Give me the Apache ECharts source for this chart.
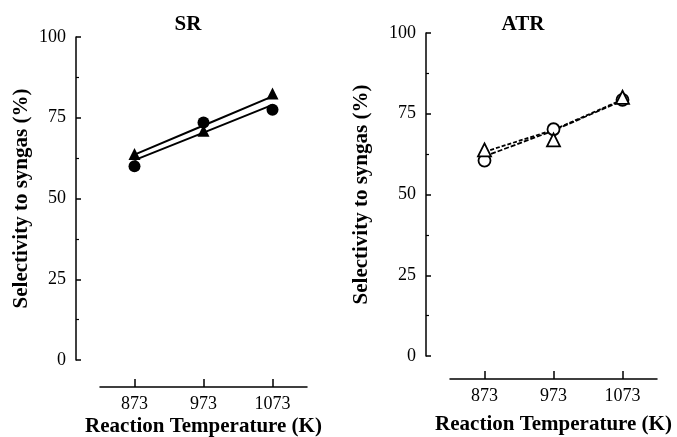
<!DOCTYPE html>
<html>
<head>
<meta charset="utf-8">
<script src="https://cdn.jsdelivr.net/npm/echarts@6/dist/echarts.min.js"></script>
<style>
html,body{margin:0;padding:0;background:#fff;}
#chart{width:677px;height:437px;}
</style>
</head>
<body>
<div id="chart"></div>
<script>
// ---- data ----
const categories = ['873', '973', '1073'];
const yTicks = [0, 25, 50, 75, 100];
const srCircle = [60, 73.5, 77.5];
const srTriangle = [63.8, 71, 82.5];
const srCircleFit = [61.9, 70.4, 79.0];
const srTriangleFit = [63.6, 72.6, 81.6];
const atrCircle = [60.5, 70.2, 79.3];
const atrTriangle = [63.8, 66.9, 80.1];
const atrLineA = [63.2, 70.0, 79.4];
const atrLineB = [61.8, 69.8, 79.1];
const panelTitles = ['SR', 'ATR'];
const xName = 'Reaction Temperature (K)';
const yName = 'Selectivity to syngas (%)';

const FONT = '"Liberation Serif", "Times New Roman", serif';
const chart = echarts.init(document.getElementById('chart'));

function xAxis(gridIndex, offset, nameGap) {
  return {
    type: 'category', gridIndex, data: categories, boundaryGap: true, offset,
    name: xName, nameLocation: 'middle', nameGap, nameMoveOverlap: false,
    nameTextStyle: { fontFamily: FONT, fontWeight: 'bold', fontSize: 21, color: '#000' },
    axisLine: { onZero: false, lineStyle: { color: '#000', width: 1.5 } },
    axisTick: { show: true, alignWithLabel: true, inside: true, length: 8, lineStyle: { color: '#000', width: 1.5 } },
    axisLabel: { fontFamily: FONT, fontSize: 18, color: '#000', margin: 8 },
    splitLine: { show: false }
  };
}
function yAxis(gridIndex, nameGap) {
  return {
    type: 'value', gridIndex, min: yTicks[0], max: yTicks[yTicks.length - 1], interval: 25, offset: 24,
    name: yName, nameLocation: 'middle', nameGap, nameMoveOverlap: false,
    nameTextStyle: { fontFamily: FONT, fontWeight: 'bold', fontSize: 21, color: '#000' },
    axisLine: { show: true, onZero: false, lineStyle: { color: '#000', width: 1.5 } },
    axisTick: { show: true, inside: true, length: 5, lineStyle: { color: '#000', width: 1.5 } },
    minorTick: { show: true, splitNumber: 2, length: 3, lineStyle: { color: '#000', width: 1.2 } },
    axisLabel: { fontFamily: FONT, fontSize: 18, color: '#000', margin: 10 },
    splitLine: { show: false }
  };
}
function fitLine(idx, data, type) {
  return {
    type: 'line', xAxisIndex: idx, yAxisIndex: idx, data, symbol: 'none', silent: true, z: 2,
    lineStyle: { color: '#000', width: type === 'solid' ? 2 : 1.8, type }
  };
}
function markers(idx, data, symbol, filled, size) {
  return {
    type: 'scatter', xAxisIndex: idx, yAxisIndex: idx, data, symbol, symbolSize: size, z: 3,
    itemStyle: filled ? { color: '#000', opacity: 1 } : { color: '#fff', borderColor: '#000', borderWidth: 1.8, opacity: 1 }
  };
}

chart.setOption({
  animation: false,
  backgroundColor: '#fff',
  graphic: [
    { type: 'text', x: 188, y: 14, style: { text: panelTitles[0], x: 0, y: 0, textAlign: 'center', font: 'bold 21px ' + FONT, fill: '#000' } },
    { type: 'text', x: 523, y: 14, style: { text: panelTitles[1], x: 0, y: 0, textAlign: 'center', font: 'bold 21px ' + FONT, fill: '#000' } }
  ],
  grid: [
    { left: 100, width: 207, top: 37, height: 323, containLabel: false, outerBoundsMode: 'none' },
    { left: 450, width: 207, top: 33, height: 323, containLabel: false, outerBoundsMode: 'none' }
  ],
  xAxis: [xAxis(0, 27, 29), xAxis(1, 23, 35)],
  yAxis: [yAxis(0, 44), yAxis(1, 54)],
  series: [
    fitLine(0, srTriangleFit, 'solid'),
    fitLine(0, srCircleFit, 'solid'),
    markers(0, srCircle, 'circle', true, 12),
    markers(0, srTriangle, 'triangle', true, 12),
    fitLine(1, atrLineA, [4, 2]),
    fitLine(1, atrLineB, [5, 2]),
    markers(1, atrCircle, 'circle', false, 12),
    markers(1, atrTriangle, 'triangle', false, 13)
  ]
});
</script>
</body>
</html>
